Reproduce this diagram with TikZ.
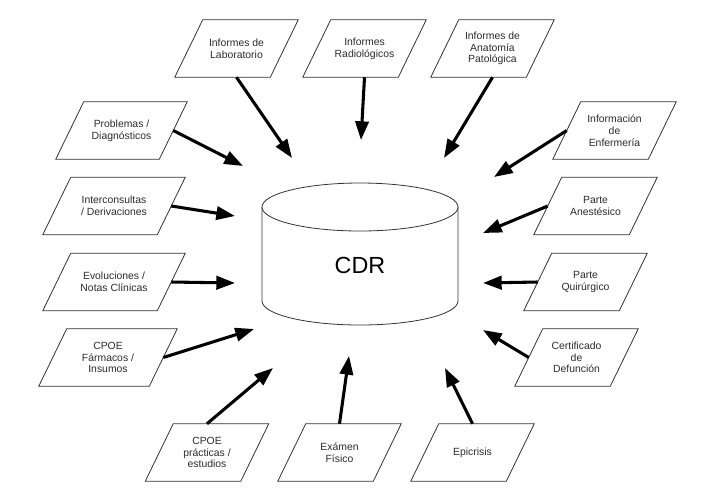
\documentclass[tikz,border=0pt]{standalone}
\usepackage{fontspec}
\setmainfont{Liberation Sans}
\usepackage{tikz}
\usetikzlibrary{arrows.meta}
\definecolor{boxline}{HTML}{333333}
\definecolor{boxtext}{HTML}{2A2A2A}

\begin{document}
\begin{tikzpicture}[
  x=0.75pt, y=-0.75pt,
  every node/.style={font=\fontsize{7.8}{8.8}\selectfont, text=boxtext},
  feed/.style={-{Triangle[length=14pt, width=10pt]}, line width=2.3pt, color=black},
  frame/.style={draw=boxline, line width=0.6pt},
  source/.style={align=center, inner sep=0pt,
                 minimum width=71.25pt, minimum height=42.75pt},
  widesource/.style={source, minimum width=#1},
]
  \useasboundingbox (0,0) rectangle (717,501);

  % Repository cylinder
  \draw[frame, fill=white]
    (262,207) -- (262,301) arc[start angle=180, end angle=0, x radius=98, y radius=24] -- (458,207);
  \draw[frame, fill=white] (360,207) ellipse [x radius=98, y radius=24];
  \node[font=\fontsize{17.5}{20}\selectfont, text=black] (cdr) at (360,265) {CDR};

  % Sources
  \node[source] (lab) at (236.5,48.5) {Informes de\\Laboratorio};
  \node[source] (radio) at (364.5,48.5) {Informes\\Radiológicos};
  \node[source] (anat) at (492.5,48.5) {Informes de\\Anatomía\\Patológica};
  \node[widesource=77.25pt] (prob) at (121.5,130.5) {Problemas /\\Diagnósticos};
  \node[widesource=85.5pt] (inter) at (114,206) {Interconsultas\\/ Derivaciones};
  \node[widesource=85.5pt] (evol) at (114,282) {Evoluciones /\\Notas Clínicas};
  \node[widesource=82.5pt] (farm) at (108,357.5) {CPOE\\Fármacos /\\Insumos};
  \node[source] (enf) at (614.5,130.5) {Información\\de\\Enfermería};
  \node[source] (anest) at (595.5,206) {Parte\\Anestésico};
  \node[source] (quir) at (585.5,282) {Parte\\Quirúrgico};
  \node[source] (cert) at (576.5,357.5) {Certificado\\de\\Defunción};
  \node[source] (pract) at (207,452.5) {CPOE\\prácticas /\\estudios};
  \node[source] (exam) at (339.5,452.5) {Exámen\\Físico};
  \node[source] (epic) at (472.5,452.5) {Epicrisis};

  % Slanted frames round the sources
  \foreach \n in {lab,radio,anat,prob,inter,evol,farm,enf,anest,quir,cert,pract,exam,epic}
    \draw[frame] ([xshift=10.5pt]\n.north west) -- ([xshift=10.5pt]\n.north east)
      -- ([xshift=-10.5pt]\n.south east) -- ([xshift=-10.5pt]\n.south west) -- cycle;

  % Arrow tips around the cylinder
  \coordinate (t_lab) at (292,158);
  \coordinate (t_radio) at (361,140);
  \coordinate (t_anat) at (444,158);
  \coordinate (t_prob) at (243,166);
  \coordinate (t_inter) at (235,216);
  \coordinate (t_evol) at (235,283);
  \coordinate (t_farm) at (254,329);
  \coordinate (t_enf) at (494,177);
  \coordinate (t_anest) at (483,233);
  \coordinate (t_quir) at (483,283);
  \coordinate (t_cert) at (483,330);
  \coordinate (t_pract) at (273,368);
  \coordinate (t_exam) at (349,356);
  \coordinate (t_epic) at (445,368);

  % Feeds
  \draw[feed] (lab.south) -- (t_lab);
  \draw[feed] (radio.south) -- (t_radio);
  \draw[feed] (anat.south) -- (t_anat);
  \draw[feed] (prob.east) -- (t_prob);
  \draw[feed] (inter.east) -- (t_inter);
  \draw[feed] (evol.east) -- (t_evol);
  \draw[feed] (farm.east) -- (t_farm);
  \draw[feed] (enf.west) -- (t_enf);
  \draw[feed] (anest.west) -- (t_anest);
  \draw[feed] (quir.west) -- (t_quir);
  \draw[feed] (cert.west) -- (t_cert);
  \draw[feed] (pract.north) -- (t_pract);
  \draw[feed] (exam.north) -- (t_exam);
  \draw[feed] (epic.north) -- (t_epic);
\end{tikzpicture}
\end{document}
